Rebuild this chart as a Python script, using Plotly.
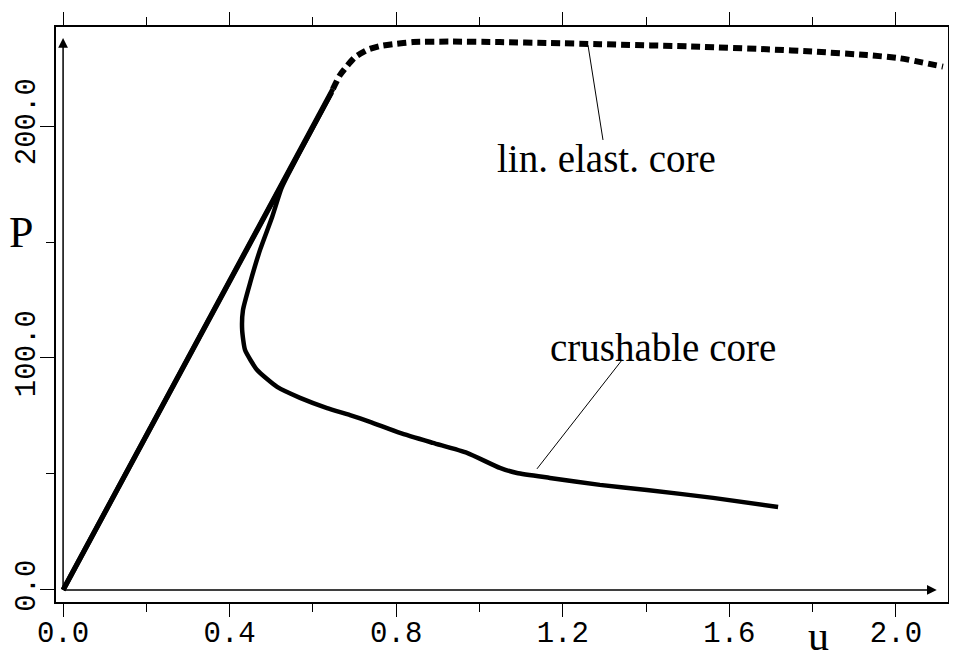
import plotly.graph_objects as go

# ---- data ----
# shared linear loading branch
lin_u_solid = [0.0, 0.648]
lin_P_solid = [0.0, 216.0]

# lin. elast. core (dashed post-peak branch)
lin_u_dash = [0.648, 0.665, 0.682, 0.701, 0.730, 0.761, 0.792, 0.840, 0.929, 1.049,
              1.169, 1.289, 1.529, 1.690, 1.810, 1.930, 2.010, 2.113]
lin_P_dash = [216.0, 222.0, 225.9, 229.7, 232.8, 234.5, 235.3, 236.2, 236.4, 236.2,
              235.8, 235.3, 234.2, 233.1, 232.0, 230.6, 229.2, 225.6]

# crushable core
crush_u_up = [0.0, 0.645]
crush_P_up = [0.0, 214.5]
crush_u_back = [0.645, 0.590, 0.543, 0.524, 0.502, 0.473, 0.449, 0.432, 0.430, 0.437,
                0.466, 0.514, 0.569, 0.634, 0.689, 0.737, 0.809, 0.888, 0.970, 1.049,
                1.090, 1.169, 1.289, 1.402, 1.561, 1.717]
crush_P_back = [214.5, 196.0, 180.0, 173.0, 160.8, 146.6, 132.3, 120.7, 112.1, 103.4,
                94.8, 87.5, 82.8, 78.4, 75.4, 72.5, 67.7, 63.4, 59.1, 52.6,
                50.4, 48.3, 45.3, 43.1, 39.7, 35.8]

x_ticks = [0.0, 0.4, 0.8, 1.2, 1.6, 2.0]
x_tick_text = ["0.0", "0.4", "0.8", "1.2", "1.6", "2.0"]
y_ticks = [0.0, 100.0, 200.0]
y_tick_text = ["0.0", "100.0", "200.0"]

label_lin = "lin. elast. core"
label_crush = "crushable core"
lead_lin_u = [1.2605, 1.2965]
lead_lin_P = [234.9, 194.0]
lead_crush_u = [1.138, 1.342]
lead_crush_P = [52.2, 99.1]

x_range = [-0.017, 2.125]
y_range = [-5.2, 242.7]

fig = go.Figure()
black = "#000000"

fig.add_trace(go.Scatter(x=lin_u_solid, y=lin_P_solid, mode="lines",
                         line=dict(color=black, width=5), showlegend=False, hoverinfo="skip"))
fig.add_trace(go.Scatter(x=lin_u_dash, y=lin_P_dash, mode="lines",
                         line=dict(color=black, width=6, dash="9px,5px", shape="spline", smoothing=0.6),
                         showlegend=False, hoverinfo="skip"))
fig.add_trace(go.Scatter(x=crush_u_up, y=crush_P_up, mode="lines",
                         line=dict(color=black, width=5), showlegend=False, hoverinfo="skip"))
fig.add_trace(go.Scatter(x=crush_u_back, y=crush_P_back, mode="lines",
                         line=dict(color=black, width=4.5, shape="spline", smoothing=0.5),
                         showlegend=False, hoverinfo="skip"))
# leader lines
fig.add_trace(go.Scatter(x=lead_lin_u, y=lead_lin_P, mode="lines",
                         line=dict(color=black, width=1), showlegend=False, hoverinfo="skip"))
fig.add_trace(go.Scatter(x=lead_crush_u, y=lead_crush_P, mode="lines",
                         line=dict(color=black, width=1), showlegend=False, hoverinfo="skip"))

annotations = [
    dict(x=1.306, y=185.8, text=label_lin, showarrow=False,
         font=dict(family="Liberation Serif", size=39, color=black), xanchor="center", yanchor="middle"),
    dict(x=1.441, y=104.7, text=label_crush, showarrow=False,
         font=dict(family="Liberation Serif", size=39, color=black), xanchor="center", yanchor="middle"),
    # axis arrows inside the frame
    dict(x=0.0, y=238.0, ax=0.0, ay=0.0, xref="x", yref="y", axref="x", ayref="y",
         showarrow=True, arrowhead=2, arrowsize=1.3, arrowwidth=1.5, arrowcolor=black, text=""),
    dict(x=2.098, y=0.0, ax=0.0, ay=0.0, xref="x", yref="y", axref="x", ayref="y",
         showarrow=True, arrowhead=2, arrowsize=1.3, arrowwidth=1.5, arrowcolor=black, text=""),
    # axis titles
    dict(x=-0.039, y=0.643, xref="paper", yref="paper", text="P", showarrow=False,
         font=dict(family="Liberation Serif", size=44, color=black), xanchor="center", yanchor="middle"),
    dict(x=1.815, y=-0.059, xref="x", yref="paper", text="u", showarrow=False,
         font=dict(family="Liberation Serif", size=42, color=black), xanchor="center", yanchor="middle"),
]

fig.update_layout(
    width=957, height=661,
    margin=dict(l=48, r=17, t=19, b=67, autoexpand=False),
    paper_bgcolor="white", plot_bgcolor="white",
    annotations=annotations,
    xaxis=dict(range=x_range, showgrid=False, zeroline=False, automargin=False,
               showline=True, linecolor=black, linewidth=1.5, mirror="ticks",
               ticks="outside", ticklen=13, tickwidth=1.3, tickcolor=black,
               tickvals=x_ticks, ticktext=x_tick_text, ticklabelstandoff=-10,
               tickfont=dict(family="Liberation Mono", size=29, color=black),
               minor=dict(tickvals=[0.2, 0.6, 1.0, 1.4, 1.8], ticks="outside", ticklen=8,
                          tickwidth=1.3, tickcolor=black)),
    yaxis=dict(range=y_range, showgrid=False, zeroline=False, automargin=False,
               showline=True, linecolor=black, linewidth=1.5, mirror="ticks",
               ticks="outside", ticklen=14, tickwidth=1.3, tickcolor=black,
               tickvals=y_ticks, ticktext=y_tick_text, tickangle=-90, ticklabelstandoff=-6,
               tickfont=dict(family="Liberation Mono", size=29, color=black),
               minor=dict(tickvals=[50.0, 150.0], ticks="outside", ticklen=8,
                          tickwidth=1.3, tickcolor=black)),
)

fig.write_html("out.html")
